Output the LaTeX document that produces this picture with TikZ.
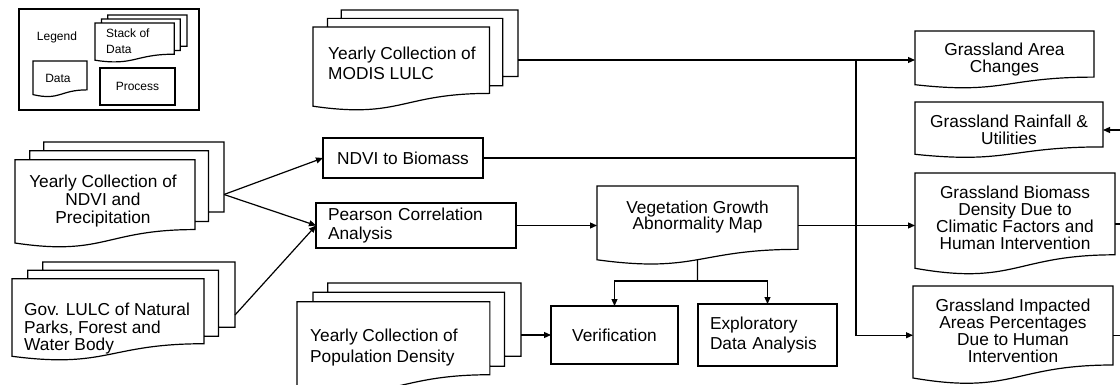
\documentclass[tikz,border=0pt]{standalone}
\usepackage{fontspec}
\setmainfont{Liberation Sans}
\usetikzlibrary{arrows.meta,calc,fit}
\newcommand\mytxt{\fontsize{17.3}{19.5}\selectfont}
\newcommand\tighttxt{\fontsize{17.3}{16.9}\selectfont}
\newcommand\smalltxt{\fontsize{12}{15.5}\selectfont}
\tikzset{
  ln/.style={line width=1.2pt, line join=miter},
  arr/.style={ln, -{Triangle[length=7pt,width=6pt]}},
  frame/.style={inner sep=0pt, outer sep=0pt, draw=none},
  proc/.style={draw, line width=1.1pt, inner sep=0pt, outer sep=0pt, font=\mytxt, align=center},
  lbl/.style={inner sep=0pt, font=\mytxt, align=center},
  lbltight/.style={inner sep=0pt, font=\tighttxt, align=center},
  lbll/.style={inner sep=0pt, font=\mytxt, align=left},
  small/.style={inner sep=0pt, font=\smalltxt, align=left},
}
\newcommand\drawdoc[1]{%
  \draw[ln] let \p1=(#1.north west), \p2=(#1.south east), \n1={\x2-\x1}, \n2={\y1-\y2} in
   (\x1,\y1) -- (\x2,\y1) -- (\x2,{\y1-0.802*\n2})
   .. controls ({\x1+0.5*\n1},{\y1-0.802*\n2}) and ({\x1+0.5*\n1},{\y1-1.1075*\n2}) .. (\x1,{\y1-0.934*\n2}) -- cycle;}
\newcommand\drawmulti[1]{%
  \draw[ln] let \p1=(#1.north west), \p2=(#1.south east), \n1={\x2-\x1}, \n2={\y1-\y2} in
   (\x1,{\y1-0.170*\n2}) -- ({\x1+0.861*\n1},{\y1-0.170*\n2}) -- ({\x1+0.861*\n1},{\y1-0.834*\n2})
   .. controls ({\x1+0.43*\n1},{\y1-0.834*\n2}) and ({\x1+0.43*\n1},{\y1-1.09*\n2}) .. (\x1,{\y1-0.962*\n2}) -- cycle
   ({\x1+0.071*\n1},{\y1-0.170*\n2}) -- ({\x1+0.071*\n1},{\y1-0.084*\n2}) -- ({\x1+0.926*\n1},{\y1-0.084*\n2})
     -- ({\x1+0.926*\n1},{\y1-0.757*\n2}) -- ({\x1+0.861*\n1},{\y1-0.757*\n2})
   ({\x1+0.1376*\n1},{\y1-0.084*\n2}) -- ({\x1+0.1376*\n1},\y1) -- (\x2,\y1) -- (\x2,{\y1-0.666*\n2})
     -- ({\x1+0.926*\n1},{\y1-0.666*\n2});}
\begin{document}
\begin{tikzpicture}[x=1pt,y=-1pt]
\useasboundingbox (0,0) rectangle (1120,385);
\fill[white] (0,0) rectangle (1120,385);
\clip (0,0) rectangle (1120,385);

% Legend
\node[frame, draw, line width=1.1pt, fit={(19,9) (199,110)}] (legend) {};
\node[small] (legendt) at (57,37) {Legend};
\node[frame, fit={(95,15) (187,62)}] (lstack) {};
\drawmulti{lstack}
\node[small, anchor=west] (lstackt) at (106,41) {Stack of\\Data};
\node[frame, fit={(33,61) (87,97)}] (ldata) {};
\drawdoc{ldata}
\node[small] (ldatat) at (58,78) {Data};
\node[proc, font=\smalltxt, minimum width=75pt, minimum height=37pt] (lproc) at (137.5,86.5) {Process};

% Data stacks
\node[frame, fit={(313,10) (518,110)}] (modis) {};
\drawmulti{modis}
\node[lbll, anchor=west] (modist) at (328,63.5) {Yearly Collection of\\MODIS LULC};

\node[frame, fit={(15,142) (224,247)}] (ndvi) {};
\drawmulti{ndvi}
\node[lbl, font=\fontsize{17.3}{18}\selectfont] (ndvit) at (103,201) {Yearly Collection of\\NDVI and\\Precipitation};

\node[frame, fit={(12,262) (235,360)}] (gov) {};
\drawmulti{gov}
\node[lbll, anchor=west, font=\fontsize{17.3}{17.5}\selectfont] (govt) at (24,329) {Gov. LULC of Natural\\Parks, Forest and\\Water Body};

\node[frame, fit={(297,283) (521,393)}] (pop) {};
\drawmulti{pop}
\node[lbll, anchor=west, font=\fontsize{17.3}{21}\selectfont] (popt) at (310,347.5) {Yearly Collection of\\Population Density};

% Processes
\node[proc, minimum width=160pt, minimum height=40pt] (nb) at (403,158) {NDVI to Biomass};
\node[proc, minimum height=45pt, inner xsep=12pt, text width=176pt, align=left] (pear) at (416,225.5) {Pearson Correlation\\Analysis};
\node[frame, fit={(597,186) (798,265)}] (vgam) {};
\drawdoc{vgam}
\node[lbltight] (vgamt) at (697.5,217) {Vegetation Growth\\Abnormality Map};
\node[proc, minimum width=127pt, minimum height=58pt] (verif) at (614.5,335) {Verification};
\node[proc, minimum height=62pt, inner xsep=12pt, text width=115pt, align=left] (eda) at (767.5,335) {Exploratory\\Data Analysis};

% Outputs
\node[frame, fit={(915,31) (1094,88.5)}] (area) {};
\drawdoc{area}
\node[lbltight] (areat) at (1004.5,59.5) {Grassland Area\\Changes};
\node[frame, fit={(915,102) (1103,158)}] (rain) {};
\drawdoc{rain}
\node[lbltight] (raint) at (1009,130) {Grassland Rainfall \&\\Utilities};
\node[frame, fit={(915,173) (1115,275)}] (bio) {};
\drawdoc{bio}
\node[lbltight] (biot) at (1015,218) {Grassland Biomass\\Density Due to\\Climatic Factors and\\Human Intervention};
\node[frame, fit={(913,286) (1113,384.5)}] (imp) {};
\drawdoc{imp}
\node[lbltight] (impt) at (1013,331) {Grassland Impacted\\Areas Percentages\\Due to Human\\Intervention};

% Connectors
\coordinate (bus) at (856,0);
\draw[arr] (modis.east) -- (modis.east -| area.west);
\draw[arr] (modis.east -| bus) |- (imp.west);
\draw[ln] (nb.east) -- (nb.east -| bus);
\draw[arr] (vgam.east) -- (vgam.east -| bio.west);
\draw[arr] (ndvi.east) -- (nb.west);
\draw[arr] (ndvi.east) -- (pear.west);
\draw[arr] ($(gov.east)+(0,4)$) -- (pear.west);
\draw[arr] (pear.east) -- (pear.east -| vgam.west);
\coordinate (vgamb) at ($(vgam.north)!0.933!(vgam.south)$);
\coordinate (split) at (697.5,281);
\draw[ln] (vgamb) -- (split);
\draw[arr] (split) -| (verif.north);
\draw[arr] (split) -| (eda.north);
\draw[arr] (verif.west -| pop.east) -- (verif.west);
\coordinate (rin) at (1120,130);
\draw[arr] (rin) -- (rain.east);
\coordinate (bout) at (1120,224);
\draw[ln] (bio.east) -- (bout);
\coordinate (iout) at (1120,335.25);
\draw[ln] (imp.east) -- (iout);
\end{tikzpicture}
\end{document}
